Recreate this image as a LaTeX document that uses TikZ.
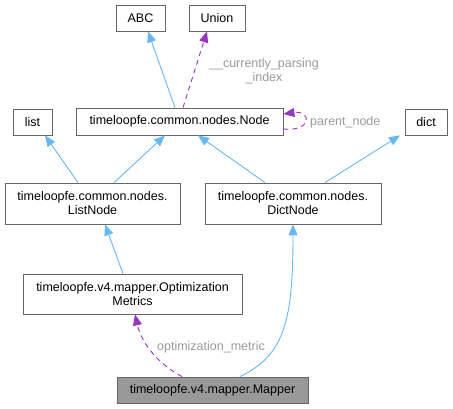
\documentclass[tikz,border=0pt]{standalone}
\usepackage{fontspec}
\setmainfont{Liberation Sans}
\usetikzlibrary{arrows.meta}
\definecolor{edgeblue}{HTML}{63B8FF}
\definecolor{edgepurple}{HTML}{9A32CD}
\definecolor{boxborder}{HTML}{666666}
\definecolor{lblgray}{HTML}{9A9A9A}
\definecolor{mapfill}{HTML}{999999}
\tikzset{
  cls/.style={draw=boxborder, fill=white, line width=0.8pt, align=center, inner sep=0pt,
    font=\fontsize{12.5}{14}\selectfont, text=black},
  inh/.style={draw=edgeblue, line width=0.9pt, -{Triangle[length=11pt,width=9pt,fill=edgeblue]}},
  use/.style={draw=edgepurple, line width=0.9pt, dash pattern=on 5pt off 4pt, -{Triangle[length=11pt,width=9pt,fill=edgepurple]}},
  lbl/.style={text=lblgray, font=\fontsize{12.5}{14}\selectfont, align=center, inner sep=0pt}
}
\begin{document}
\begin{tikzpicture}[x=1pt,y=-1pt]
\useasboundingbox (0,0) rectangle (453,409);
\node[cls, minimum width=49pt, minimum height=26pt] (abc) at (140.5,18) {ABC};
\node[cls, minimum width=56pt, minimum height=26pt] (union) at (217,18) {Union};
\node[cls, minimum width=39pt, minimum height=26pt] (list) at (32.5,122) {list};
\node[cls, minimum width=207pt, minimum height=27pt] (node) at (179.5,121.5) {timeloopfe.common.nodes.Node};
\node[cls, minimum width=42pt, minimum height=26pt] (dict) at (426,122) {dict};
\node[cls, minimum width=175pt, minimum height=41pt] (listnode) at (92.5,203.5) {timeloopfe.common.nodes.\\ListNode};
\node[cls, minimum width=176pt, minimum height=41pt] (dictnode) at (293,203.5) {timeloopfe.common.nodes.\\DictNode};
\node[cls, minimum width=219pt, minimum height=40pt] (optm) at (132.5,294) {timeloopfe.v4.mapper.Optimization\\Metrics};
\node[cls, fill=mapfill, minimum width=191pt, minimum height=26pt] (mapper) at (212.5,390) {timeloopfe.v4.mapper.Mapper};

\draw[inh] (node.north -| 175,0) -- (abc.south -| 148,0);
\draw[use] (node.north -| 183,0) -- (union.south -| 207,0);
\node[lbl] (lblcur) at (264,71) {\_\_currently\_parsing\\\_index};
\draw[use] (node.east |- 0,129) .. controls (312,132) and (312,110) .. (node.east |- 0,114);
\node[lbl, anchor=west] (lblpar) at (310,122) {parent\_node};

\draw[inh] (listnode.north -| 78,0) -- (list.south -| 45,0);
\draw[inh] (listnode.north -| 114,0) -- (node.south -| 165,0);
\draw[inh] (dictnode.north -| 265,0) -- (node.south -| 198,0);
\draw[inh] (dictnode.north -| 325,0) -- (dict.south -| 400,0);
\draw[inh] (optm.north -| 123,0) -- (listnode.south -| 105,0);
\draw[inh] (mapper.north -| 240,0) .. controls (285,355) and (293,320) .. (dictnode.south -| 293,0);
\draw[use] (mapper.north -| 182,0) .. controls (160,365) and (142,345) .. (optm.south -| 135,0);
\node[lbl] (lblopt) at (211,347) {optimization\_metric};
\end{tikzpicture}
\end{document}
